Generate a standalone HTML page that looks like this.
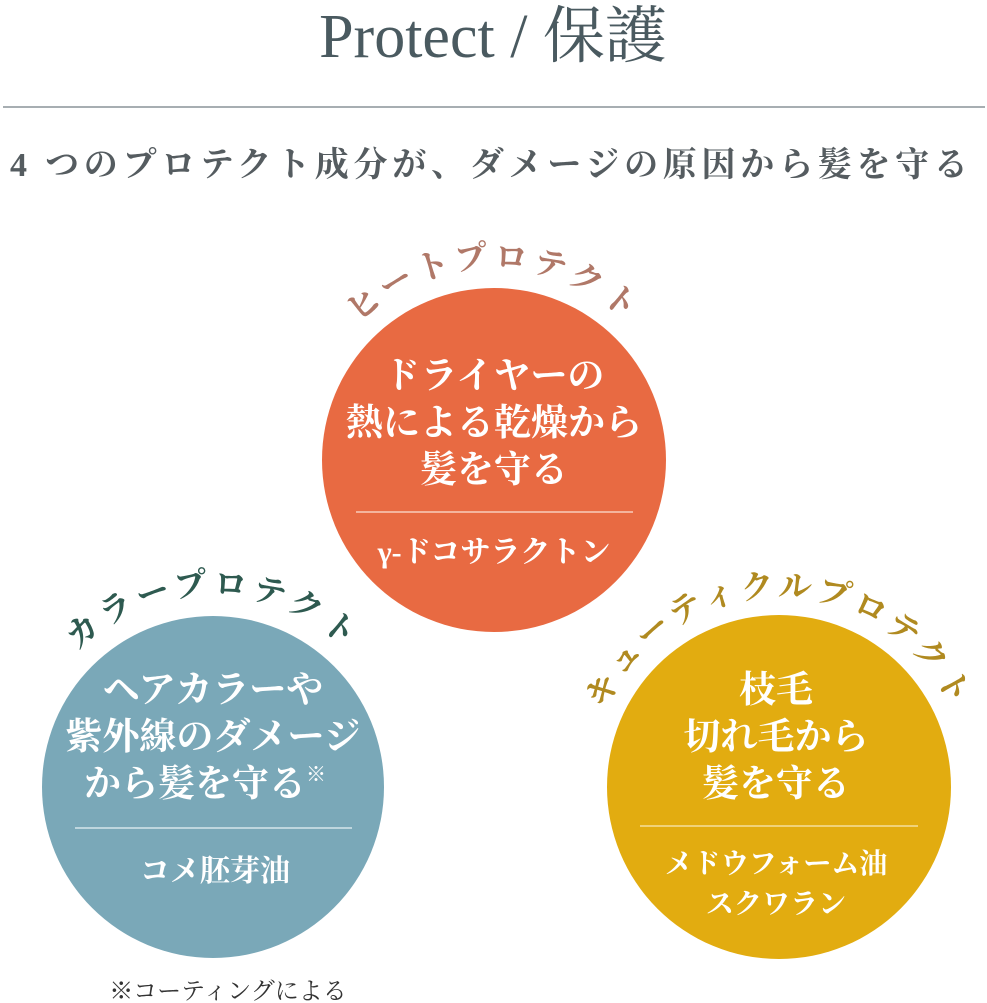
<!DOCTYPE html>
<html><head><meta charset="utf-8"><style>
html,body{margin:0;padding:0;background:#fff;}
body{width:987px;height:1003px;position:relative;overflow:hidden;}
svg{position:absolute;left:0;top:0;}
</style></head><body>
<svg width="987" height="1003" viewBox="0 0 987 1003" xmlns="http://www.w3.org/2000/svg" font-family="'Liberation Serif','Noto Serif CJK SC',serif">
<defs>
<path id="a1" d="M 302 460 A 192 192 0 0 1 686 460"/>
<path id="a2" d="M 21 787 A 192 192 0 0 1 405 787"/>
<path id="a3" d="M 589 787 A 190 190 0 0 1 969 787"/>
</defs>
<text x="493" y="57" text-anchor="middle" font-size="62" fill="#4a5a60">Protect / 保護</text>
<line x1="3" y1="107" x2="985" y2="107" stroke="#8a9498" stroke-width="1.5"/>
<text x="10" y="176" font-size="34" font-weight="bold" fill="#555c60" textLength="958" lengthAdjust="spacing">4 つのプロテクト成分が、ダメージの原因から髪を守る</text>

<circle cx="494" cy="460" r="172" fill="#e86a42"/>
<circle cx="213" cy="787" r="171" fill="#7aa8b8"/>
<circle cx="779" cy="787" r="172" fill="#e2ac10"/>

<text font-size="33" fill="#b07868" letter-spacing="5" font-weight="bold"><textPath href="#a1" startOffset="50%" text-anchor="middle">ヒートプロテクト</textPath></text>
<text font-size="33" fill="#2e5a50" letter-spacing="5" font-weight="bold"><textPath href="#a2" startOffset="50%" text-anchor="middle">カラープロテクト</textPath></text>
<text font-size="33" fill="#b08a20" letter-spacing="4" font-weight="bold"><textPath href="#a3" startOffset="50%" text-anchor="middle">キューティクルプロテクト</textPath></text>

<g fill="#fff" font-weight="bold" text-anchor="middle" font-size="37">
<text x="494" y="388">ドライヤーの</text>
<text x="494" y="435">熱による乾燥から</text>
<text x="494" y="482">髪を守る</text>
<text x="494" y="562" font-size="30">γ-ドコサラクトン</text>
<text x="213" y="702">ヘアカラーや</text>
<text x="213" y="749">紫外線のダメージ</text>
<text x="205" y="796">から髪を守る<tspan font-size="20" dy="-15">※</tspan></text>
<text x="215" y="881" font-size="30">コメ胚芽油</text>
<text x="776" y="702">枝毛</text>
<text x="776" y="749">切れ毛から</text>
<text x="776" y="796">髪を守る</text>
<text x="776" y="873" font-size="28">メドウフォーム油</text>
<text x="776" y="913" font-size="28">スクワラン</text>
</g>
<line x1="356" y1="512" x2="633" y2="512" stroke="#fbe0d4" stroke-width="1.2"/>
<line x1="75" y1="828" x2="352" y2="828" stroke="#e8f2f5" stroke-width="1.2"/>
<line x1="640" y1="826" x2="918" y2="826" stroke="#f8e8b8" stroke-width="1.2"/>
<text x="228" y="999" text-anchor="middle" font-size="24" fill="#333">※コーティングによる</text>
</svg>
</body></html>
